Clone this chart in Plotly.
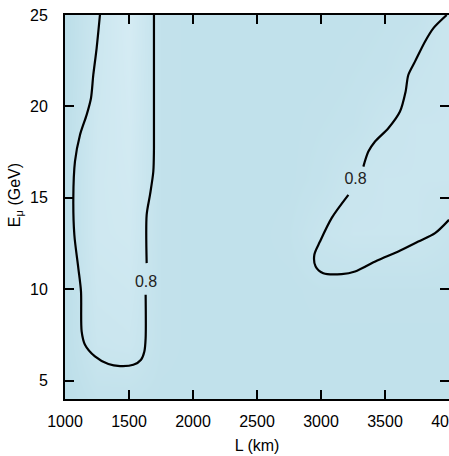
import plotly.graph_objects as go

# ---- background grid (estimated shading level) ----
L_grid = [1000, 1250, 1500, 1750, 2000, 2250, 2500, 2750, 3000, 3250, 3500, 3750, 4000]
E_grid = [4, 7, 10, 13, 16, 19, 22, 25]
Z_grid = [
    [0.72, 0.77, 0.77, 0.76, 0.76, 0.76, 0.76, 0.76, 0.76, 0.76, 0.76, 0.76, 0.76],  # E=4
    [0.73, 0.83, 0.84, 0.77, 0.76, 0.76, 0.76, 0.76, 0.76, 0.76, 0.76, 0.76, 0.76],  # E=7
    [0.73, 0.85, 0.86, 0.77, 0.76, 0.76, 0.76, 0.76, 0.77, 0.77, 0.77, 0.77, 0.77],  # E=10
    [0.73, 0.87, 0.88, 0.77, 0.76, 0.76, 0.76, 0.77, 0.81, 0.83, 0.83, 0.83, 0.80],  # E=13
    [0.73, 0.87, 0.89, 0.77, 0.76, 0.76, 0.76, 0.76, 0.78, 0.82, 0.83, 0.83, 0.83],  # E=16
    [0.73, 0.86, 0.90, 0.77, 0.76, 0.76, 0.76, 0.76, 0.77, 0.78, 0.82, 0.83, 0.83],  # E=19
    [0.72, 0.85, 0.91, 0.77, 0.76, 0.76, 0.76, 0.76, 0.76, 0.77, 0.78, 0.81, 0.83],  # E=22
    [0.72, 0.84, 0.92, 0.77, 0.76, 0.76, 0.76, 0.76, 0.76, 0.76, 0.77, 0.78, 0.83],  # E=25
]

# ---- 0.8 contour, left island (split at the label) ----
left_a_L = [1630, 1630, 1620, 1594, 1534, 1430, 1339, 1234, 1156, 1130, 1125, 1104, 1073, 1065, 1078, 1117, 1169, 1203, 1221, 1247, 1273]
left_a_E = [9.70, 7.33, 6.60, 6.15, 5.87, 5.80, 5.91, 6.33, 6.97, 7.70, 9.88, 11.16, 12.98, 14.98, 16.99, 18.44, 19.54, 20.45, 21.72, 23.18, 25.0]
left_b_L = [1638, 1638, 1664, 1690, 1695, 1695]
left_b_E = [11.43, 14.07, 15.16, 16.44, 17.71, 25.0]

# ---- 0.8 contour, right island (split at the label) ----
right_a_L = [3331, 3370, 3422, 3526, 3617, 3661, 3682, 3734, 3812, 3877, 3982]
right_a_E = [16.71, 17.53, 18.08, 18.81, 19.72, 20.81, 21.72, 22.45, 23.54, 24.27, 25.0]
right_b_L = [3214, 3083, 2992, 2948, 2958, 3018, 3161, 3266, 3435, 3604, 3760, 3891, 4000]
right_b_E = [15.16, 13.89, 12.61, 11.89, 11.25, 10.88, 10.83, 10.97, 11.56, 12.07, 12.61, 13.07, 13.80]

label_L = [1633, 3270]
label_E = [10.35, 15.95]
label_text = ["0.8", "0.8"]

x_ticks = [1000, 1500, 2000, 2500, 3000, 3500, 4000]
y_ticks = [5, 10, 15, 20, 25]

FONT = "Liberation Sans, Arial, Helvetica, sans-serif"

fig = go.Figure()
fig.add_trace(go.Heatmap(
    x=L_grid, y=E_grid, z=Z_grid, zsmooth="best", zmin=0.6, zmax=1.0,
    colorscale=[[0, "rgb(173,214,226)"], [1, "rgb(223,241,248)"]],
    showscale=False, hoverinfo="skip"))

for xs, ys in [(left_a_L, left_a_E), (left_b_L, left_b_E),
               (right_a_L, right_a_E), (right_b_L, right_b_E)]:
    fig.add_trace(go.Scatter(x=xs, y=ys, mode="lines",
                             line=dict(color="black", width=2.2, shape="spline", smoothing=0.8),
                             showlegend=False, hoverinfo="skip"))

fig.add_trace(go.Scatter(x=label_L, y=label_E, mode="text", text=label_text,
                         textfont=dict(family=FONT, size=16, color="#222"),
                         showlegend=False, hoverinfo="skip"))

axis_common = dict(showline=True, linecolor="black", linewidth=2, mirror="ticks",
                   ticks="inside", ticklen=9, tickwidth=2, tickcolor="black",
                   showgrid=False, zeroline=False, ticklabeloverflow="allow",
                   tickfont=dict(family=FONT, size=16, color="black"))

fig.update_xaxes(range=[1000, 4000], tickvals=x_ticks, ticktext=[str(v) for v in x_ticks],
                 title=dict(text="L (km)", font=dict(family=FONT, size=16, color="black"), standoff=11),
                 ticklabelstandoff=7, **axis_common)
fig.update_yaxes(range=[4, 25], tickvals=y_ticks, ticktext=[str(v) for v in y_ticks],
                 ticklabelstandoff=12, **axis_common)

fig.add_annotation(text="E<sub>μ</sub> (GeV)", xref="paper", yref="paper",
                   x=-0.130, y=0.531, xanchor="center", yanchor="middle",
                   textangle=-90, showarrow=False,
                   font=dict(family=FONT, size=16, color="black"))

fig.update_layout(width=449, height=456, margin=dict(l=65, r=0, t=15, b=57, autoexpand=False),
                  paper_bgcolor="white", plot_bgcolor="white", showlegend=False)

fig.write_html("out.html")
